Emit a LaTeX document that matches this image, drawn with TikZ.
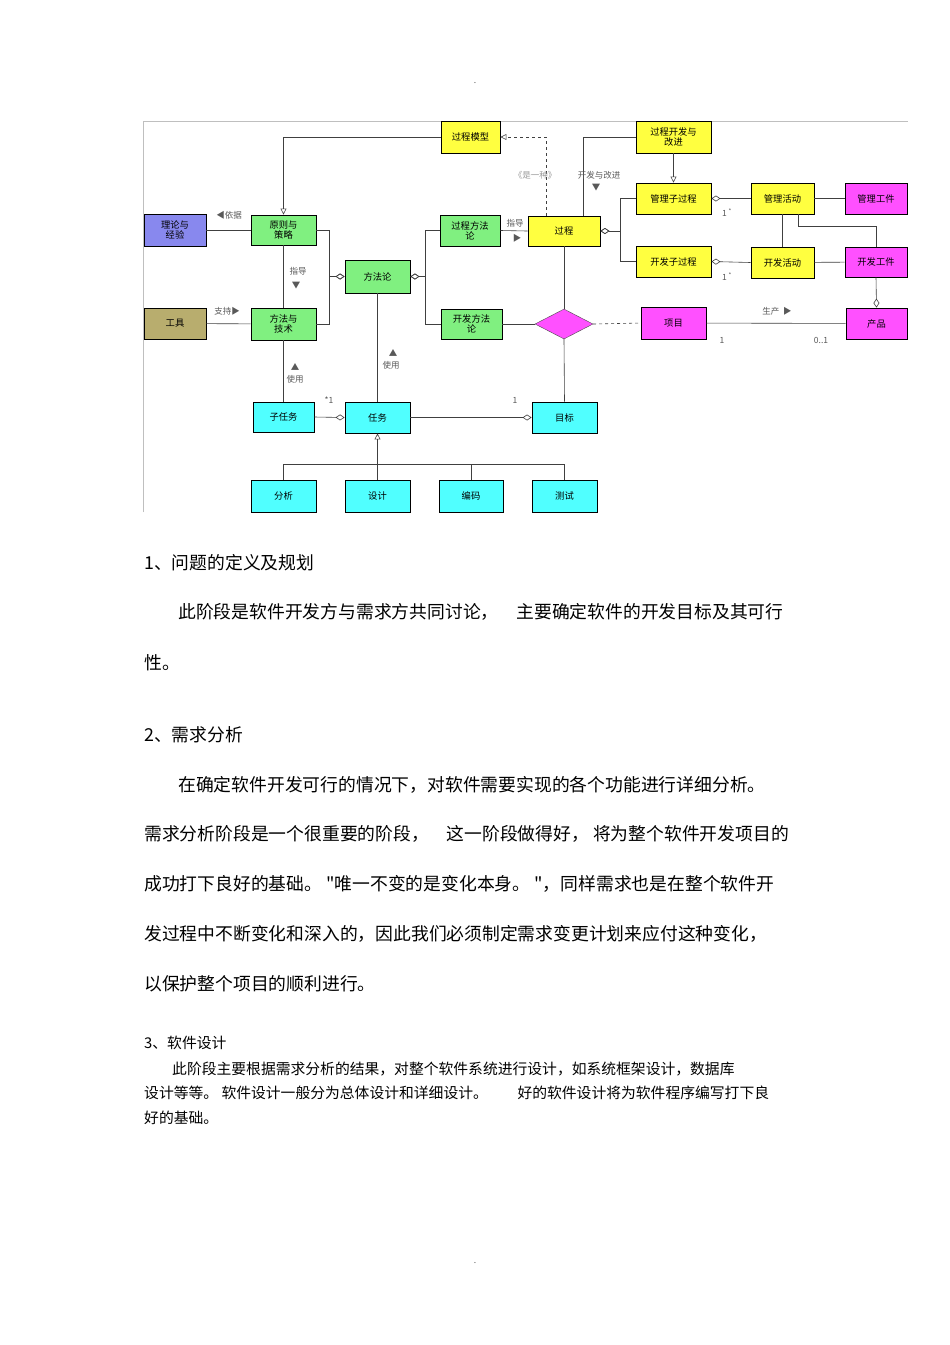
\documentclass[tikz,border=0pt]{standalone}
\usepackage{fontspec}
\newfontfamily\cjk{Noto Sans CJK SC}
\usetikzlibrary{arrows.meta,shapes.geometric}
\definecolor{cg}{HTML}{80F080}
\definecolor{cy}{HTML}{FFFF40}
\definecolor{cc}{HTML}{50FFFF}
\definecolor{cm}{HTML}{FF50FF}
\definecolor{cb}{HTML}{8888EE}
\definecolor{co}{HTML}{B8AD6E}
\tikzset{
 box/.style={draw=black,line width=0.9pt,inner sep=0pt,align=center,font=\cjk\fontsize{9.3}{10}\selectfont},
 lbl/.style={font=\cjk\fontsize{8.5}{9}\selectfont,text=black!65,inner sep=1pt},
 con/.style={line width=0.6pt,black!75},
 agg/.style={con,{Diamond[open,length=9pt,width=6pt]}-},
 gen/.style={con,-{Triangle[open,length=6pt,width=6pt]}},
 body/.style={font=\cjk\fontsize{17.8}{20}\selectfont,anchor=west,inner sep=0pt},
 small/.style={font=\cjk\fontsize{14.8}{16}\selectfont,anchor=west,inner sep=0pt}
}
\newcommand\bx[7]{\node[box,fill=#6,minimum width=#4pt-#2pt,minimum height=#5pt-#3pt] (#1) at ({(#2+#4)/2},{(#3+#5)/2}) {#7};}
\begin{document}
\begin{tikzpicture}[x=1pt,y=-1pt]
\useasboundingbox[fill=white] (0,0) rectangle (950,1345);
\draw[black!25,line width=0.5pt] (143,512) -- (143,121) -- (908,121);
\node[lbl] (d1) at (475,83) {.};
\node[lbl] (d2) at (475,1263) {.};
% boxes
\bx{gcmx}{441}{121}{500}{153}{cy}{过程模型}
\bx{llyj}{144}{214}{206}{246}{cb}{理论与\\经验}
\bx{yzcl}{251}{215}{316}{245}{cg}{原则与\\策略}
\bx{gj}{144}{308}{206}{339}{co}{工具}
\bx{ffjs}{251}{308}{316}{340}{cg}{方法与\\技术}
\bx{ffl}{345}{260}{410}{293}{cg}{方法论}
\bx{gcff}{440}{215}{500}{246}{cg}{过程方法\\论}
\bx{kfff}{441}{309}{502}{339}{cg}{开发方法\\论}
\bx{gc}{528}{216}{600}{246}{cy}{过程}
\bx{gckf}{636}{121}{711}{153}{cy}{过程开发与\\改进}
\bx{glz}{636}{183}{711}{214}{cy}{管理子过程}
\bx{kfz}{636}{246}{711}{277}{cy}{开发子过程}
\bx{glhd}{751}{183}{814}{214}{cy}{管理活动}
\bx{kfhd}{751}{247}{814}{278}{cy}{开发活动}
\bx{glgj}{845}{183}{907}{214}{cm}{管理工件}
\bx{kfgj}{845}{247}{907}{277}{cm}{开发工件}
\bx{xm}{641}{307}{706}{339}{cm}{项目}
\bx{cp}{846}{308}{907}{339}{cm}{产品}
\node[draw=black!70,fill=cm,diamond,aspect=1.93,minimum width=58pt,minimum height=30pt,inner sep=0pt] (dm) at (564,324) {};
\bx{zrw}{253}{402}{314}{432}{cc}{子任务}
\bx{rw}{345}{402}{410}{433}{cc}{任务}
\bx{mb}{532}{402}{597}{433}{cc}{目标}
\bx{fx}{251}{480}{316}{512}{cc}{分析}
\bx{sj}{345}{480}{410}{512}{cc}{设计}
\bx{bm}{439}{480}{503}{512}{cc}{编码}
\bx{cs}{532}{480}{597}{512}{cc}{测试}
% connectors
\draw[gen] (gcmx.west) -| (yzcl.north);
\draw[gen,dashed] ([xshift=-18pt]gc.north) |- (gcmx.east);
\draw[con] ([xshift=19pt]gc.north) |- (gckf.west);
\draw[gen] (gckf.south) -- (glz.north);
\draw[agg] (gc.east) -- ++(20,0) |- (glz.west);
\draw[agg] (gc.east) -- ++(20,0) |- (kfz.west);
\draw[agg] (glz.east) -- (glhd.west);
\draw[agg] (kfz.east) -- (kfhd.west);
\draw[con] (glhd) -- (glgj);
\draw[con] (kfhd) -- (kfgj);
\draw[con] (glhd.south) -- (kfhd.north);
\draw[con] ([xshift=16pt]glhd.south) -- ++(0,12) -| (kfgj.north);
\draw[agg] (cp.north) -- (kfgj.south);
\draw[con] (xm) -- (cp);
\draw[con,dashed] (dm.east) -- (xm.west);
\draw[con] (gc.south) -- (dm.north);
\draw[con] (dm.south) -- (mb.north);
\draw[con] (kfff.east) -- (dm.west);
\draw[con] (gcff.east) -- (gc.west);
\draw[agg] (ffl.east) -- ++(15,0) |- (gcff.west);
\draw[agg] (ffl.east) -- ++(15,0) |- (kfff.west);
\draw[agg] (ffl.west) -- ++(-15,0) |- (yzcl.east);
\draw[agg] (ffl.west) -- ++(-15,0) |- (ffjs.east);
\draw[con] (llyj) -- (yzcl);
\draw[con] (gj) -- (ffjs);
\draw[con] (yzcl) -- (ffjs);
\draw[con] (ffjs) -- (zrw);
\draw[con] (ffl) -- (rw);
\draw[agg] (rw.west) -- (zrw.east);
\draw[agg] (mb.west) -- (rw.east);
\draw[con] (fx.north) -- ++(0,-15) -| (cs.north);
\draw[con] (bm.north) -- ++(0,-15);
\draw[gen] (sj.north) -- (rw.south);
% labels
\node[lbl] (l1) at (229,215) {◀依据};
\node[lbl] (l2) at (227,311) {支持▶};
\node[lbl] (l3) at (298,271) {指导};
\node[lbl] (l4) at (296,286) {▼};
\node[lbl] (l5) at (295,367) {▲};
\node[lbl] (l6) at (295,379) {使用};
\node[lbl] (l7) at (393,353) {▲};
\node[lbl] (l8) at (391,365) {使用};
\node[lbl] (l9) at (515,223) {指导};
\node[lbl] (l10) at (517,238) {▶};
\node[lbl,text=black!40] (l11) at (535,175) {《是一种》};
\node[lbl] (l12) at (599,175) {开发与改进};
\node[lbl] (l13) at (596,188) {▼};
\node[lbl] (l14) at (777,311) {生产\ \ ▶};
\node[lbl] (l15) at (722,340) {1};
\node[lbl] (l16) at (821,340) {0..1};
\node[lbl] (l17) at (727,213) {1 \textsuperscript{*}};
\node[lbl] (l18) at (727,277) {1 \textsuperscript{*}};
\node[lbl] (l19) at (329,400) {*1};
\node[lbl] (l20) at (515,400) {1};
% text
\node[body] (t1) at (144,563) {1、问题的定义及规划};
\node[body] (t2) at (178,612) {此阶段是软件开发方与需求方共同讨论，\quad 主要确定软件的开发目标及其可行};
\node[body] (t3) at (144,663) {性。};
\node[body] (t4) at (144,735) {2、需求分析};
\node[body] (t5) at (178,785) {在确定软件开发可行的情况下，对软件需要实现的各个功能进行详细分析。};
\node[body] (t6) at (144,834) {需求分析阶段是一个很重要的阶段，\quad 这一阶段做得好，\ 将为整个软件开发项目的};
\node[body] (t7) at (144,884) {成功打下良好的基础。 "唯一不变的是变化本身。 "，同样需求也是在整个软件开};
\node[body] (t8) at (144,934) {发过程中不断变化和深入的，因此我们必须制定需求变更计划来应付这种变化，};
\node[body] (t9) at (144,984) {以保护整个项目的顺利进行。};
\node[small] (t10) at (144,1043) {3、软件设计};
\node[small] (t11) at (172,1069) {此阶段主要根据需求分析的结果，对整个软件系统进行设计，如系统框架设计，数据库};
\node[small] (t12) at (144,1093) {设计等等。 软件设计一般分为总体设计和详细设计。\quad\quad 好的软件设计将为软件程序编写打下良};
\node[small] (t13) at (144,1118) {好的基础。};
\end{tikzpicture}
\end{document}
